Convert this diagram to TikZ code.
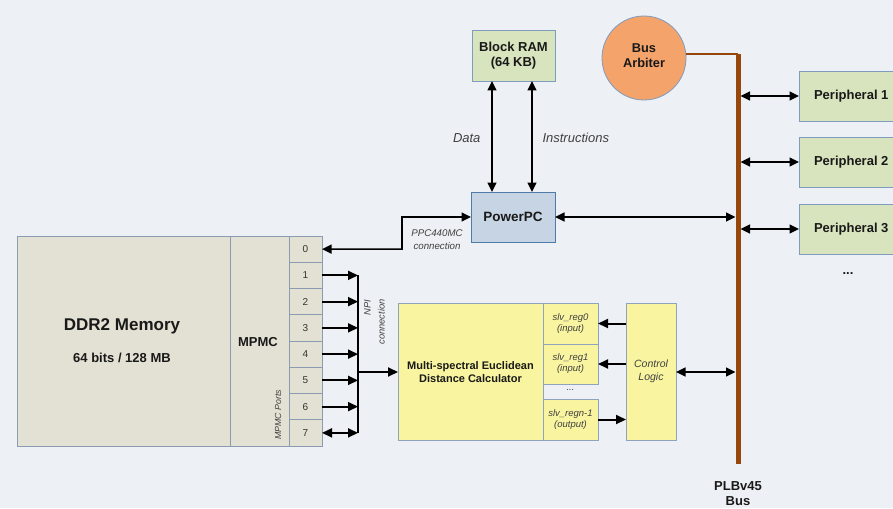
\documentclass[tikz,border=0pt]{standalone}
\usepackage{fontspec}
\setmainfont{Liberation Sans}
\usetikzlibrary{arrows.meta}
\definecolor{bg}{HTML}{EDF0F4}
\definecolor{beige}{HTML}{E3E1D3}
\definecolor{beigeline}{HTML}{8A9BB2}
\definecolor{greenfill}{HTML}{D7E4BD}
\definecolor{boxline}{HTML}{7F9BC0}
\definecolor{ppcfill}{HTML}{C6D4E3}
\definecolor{ppcline}{HTML}{4F7BAA}
\definecolor{yel}{HTML}{F8F49F}
\definecolor{yelline}{HTML}{8FA3BD}
\definecolor{orng}{HTML}{F4A46A}
\definecolor{busbrown}{HTML}{97470B}
\definecolor{labelgray}{HTML}{404040}
\tikzset{
  box/.style={draw, line width=0.8pt, inner sep=0pt, outer sep=0pt, anchor=north west},
  membox/.style={box, draw=beigeline, fill=beige},
  greenbox/.style={box, draw=boxline, fill=greenfill},
  yelbox/.style={box, draw=yelline, fill=yel},
  bt/.style={font=\fontsize{13}{15}\selectfont\bfseries, text=black!90, align=center},
  lab/.style={font=\fontsize{9.5}{11}\selectfont\itshape, text=labelgray, align=center},
  arr/.style={line width=2pt, -{Triangle[length=10pt,width=9pt]}},
  darr/.style={line width=2pt, {Triangle[length=10pt,width=9pt]}-{Triangle[length=10pt,width=9pt]}},
  tarr/.style={line width=1.6pt, {Triangle[length=9.5pt,width=9pt]}-{Triangle[length=9.5pt,width=9pt]}},
}
\begin{document}
\begin{tikzpicture}[x=1pt,y=-1pt]
\fill[bg] (0,0) rectangle (893,508);
\useasboundingbox (0,0) rectangle (893,508);

% DDR2 + MPMC
\node[membox, minimum width=213, minimum height=210] (ddr) at (17,236) {};
\node[membox, minimum width=59, minimum height=210] (mpmc) at (230,236) {};
\node[font=\fontsize{17}{19}\selectfont\bfseries, text=black!90] (ddrt) at (122,326) {DDR2 Memory};
\node[bt] (ddrs) at (122,358) {64 bits / 128 MB};
\node[bt] (mpmct) at (258,342) {MPMC};
\node[font=\fontsize{8.8}{10}\selectfont\itshape, text=labelgray, rotate=90] (mpmcp) at (278,415) {MPMC Ports};
\foreach \i in {0,...,7} {
  \node[membox, minimum width=33, minimum height=26.25] (p\i) at (289,{236+\i*26.25}) {};
  \node[font=\fontsize{10}{12}\selectfont, text=black!80] at (p\i.center) {\i};
}

% Block RAM, PowerPC
\node[greenbox, minimum width=83, minimum height=51] (bram) at (472,30) {};
\node[bt] at (bram.center) {Block RAM\\(64 KB)};
\node[box, draw=ppcline, fill=ppcfill, minimum width=84, minimum height=50] (ppc) at (471,192) {};
\node[font=\fontsize{13.5}{15}\selectfont\bfseries, text=black!90] at (ppc.center) {PowerPC};

\coordinate (dtop) at (492,81);
\coordinate (itop) at (532,81);
\draw[tarr] (dtop) -- (dtop |- ppc.north);
\draw[tarr] (itop) -- (itop |- ppc.north);
\node[font=\fontsize{13}{15}\selectfont\itshape, text=labelgray, anchor=east] (datal) at (484,138) {Data};
\node[font=\fontsize{13}{15}\selectfont\itshape, text=labelgray, anchor=west] (instl) at (539,138) {Instructions};

% PPC440MC connection
\coordinate (bend1) at (402,217);
\coordinate (bend0) at (402,249.1);
\draw[tarr] (p0.east) -- (bend0) -- (bend1) -- (bend1 -| ppc.west);
\node[lab, font=\fontsize{9.7}{12.5}\selectfont\itshape] (ppcl) at (437,239.5) {PPC440MC\\connection};

% Bus arbiter and bus
\node[circle, draw=boxline, line width=0.8pt, fill=orng, minimum size=84, inner sep=0pt] (arb) at (644,58) {};
\node[bt, font=\fontsize{12.8}{15.5}\selectfont\bfseries] at (644,55.5) {Bus\\Arbiter};
\coordinate (bustop) at (738,54);
\coordinate (busbot) at (738,464);
\draw[busbrown, line width=1.2pt] (arb.east |- bustop) -- (bustop);
\draw[busbrown, line width=5pt] (bustop) -- (busbot);
\node[bt] (plb) at (738,494) {PLBv45\\Bus};

% Peripherals
\foreach \i/\y in {1/71,2/137,3/204} {
  \node[greenbox, minimum width=100, minimum height=50] (per\i) at (799,\y) {};
  \node[bt, anchor=west] at (810.5,{\y+25.5}) {Peripheral \i};
  \draw[tarr] (740.5,{\y+25}) -- (per\i.west |- {0,\y+25});
}
\node[bt] (pdots) at (848,274) {...};

% PowerPC to bus
\draw[tarr] (ppc.east |- {0,217}) -- (735.5,217);

% MEDC
\node[yelbox, minimum width=145, minimum height=137] (medc) at (398,303) {};
\node[font=\fontsize{11}{13.5}\selectfont\bfseries, text=black!90, align=center] at (470.5,372) {Multi-spectral Euclidean\\Distance Calculator};
\node[yelbox, minimum width=55, minimum height=41] (r0) at (543,303) {};
\node[lab] at (r0.center) {slv\_reg0\\(input)};
\node[yelbox, minimum width=55, minimum height=40] (r1) at (543,344) {};
\node[lab] at (r1.center) {slv\_reg1\\(input)};
\node[lab] (rdots) at (570.5,390) {...};
\node[yelbox, minimum width=55, minimum height=41] (rn) at (543,399) {};
\node[lab] at (rn.center) {slv\_regn-1\\(output)};
\node[yelbox, minimum width=50, minimum height=137] (ctl) at (626,303) {};
\node[font=\fontsize{10.5}{13.5}\selectfont\itshape, text=labelgray, align=center] at (ctl.center) {Control\\Logic};

\draw[arr] (ctl.west |- r0.east) -- (r0.east);
\draw[arr] (ctl.west |- r1.east) -- (r1.east);
\draw[arr] (rn.east) -- (ctl.west |- rn.east);
\draw[tarr] (ctl.east |- {0,372}) -- (735.5,372);

% NPI connection
\coordinate (npitop) at (358,275.4);
\coordinate (npibot) at (358,432.9);
\draw[line width=2pt] (npitop) -- (npibot);
\foreach \i in {1,...,6} {
  \draw[arr] (p\i.east) -- (p\i.east -| npitop);
}
\draw[darr] (p7.east) -- (p7.east -| npitop);
\coordinate (npimid) at (358,372);
\draw[arr] (npimid) -- (npimid -| medc.west);
\node[lab, rotate=90, align=right, font=\fontsize{9.3}{14}\selectfont\itshape] (npil) at (374.5,322) {NPI\\connection};
\end{tikzpicture}
\end{document}
